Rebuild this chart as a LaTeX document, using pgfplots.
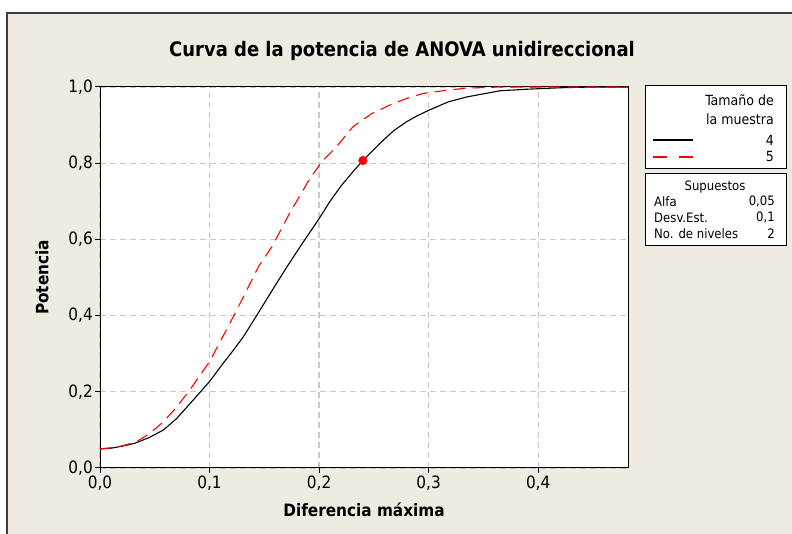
\documentclass[border=0pt]{standalone}
\usepackage{fontspec}
\setmainfont{DejaVu Sans Condensed}
\usepackage{pgfplots}
\pgfplotsset{compat=1.18}
\definecolor{beige}{RGB}{238,235,226}
\definecolor{gridc}{RGB}{200,200,200}
\definecolor{framec}{RGB}{60,60,60}
\begin{document}
\begin{tikzpicture}[x=1pt,y=1pt]
\useasboundingbox (0,0) rectangle (792,534);
\clip (0,0) rectangle (792,534);
\fill[white] (0,0) rectangle (792,534);
\fill[beige] (7,521) rectangle (805,-10);
\draw[framec,line width=1.5pt] (7,-10) -- (7,521) -- (805,521);
\node[font=\fontsize{20}{24}\selectfont\bfseries] at (402,483) {Curva de la potencia de ANOVA unidireccional};
\begin{axis}[
  at={(100pt,66pt)}, anchor=south west,
  width=528pt, height=381pt, scale only axis,
  xmin=0, xmax=0.482, ymin=0, ymax=1,
  axis background/.style={fill=white},
  axis line style={black, line width=1pt},
  xtick={0,0.1,0.2,0.3,0.4},
  ytick={0,0.2,0.4,0.6,0.8,1.0},
  tick align=outside, tick pos=left,
  major tick length=5pt,
  tick style={black, line width=1pt},
  grid=major,
  grid style={gridc, line width=1.2pt, dash pattern=on 6pt off 4pt},
  /pgf/number format/assume math mode=true,
  /pgf/number format/use comma,
  /pgf/number format/fixed,
  /pgf/number format/fixed zerofill,
  /pgf/number format/precision=1,
  ticklabel style={font=\fontsize{17}{20}\selectfont},
  yticklabel style={inner sep=2pt},
  xticklabel style={inner sep=3pt},
  xlabel={Diferencia máxima},
  ylabel={Potencia},
  xlabel style={font=\fontsize{17}{20}\selectfont\bfseries, at={(axis description cs:0.5,-0.110)}, anchor=center},
  ylabel style={font=\fontsize{17}{20}\selectfont\bfseries, at={(axis description cs:-0.110,0.5)}, anchor=center},
  clip=false,
]
\addplot[black, line width=1.1pt] coordinates {
(0,0.05) (0.01,0.052) (0.02,0.057) (0.032,0.065) (0.045,0.08) (0.058,0.10)
(0.07,0.13) (0.085,0.178) (0.1,0.227) (0.1125,0.275) (0.122,0.31) (0.131,0.345)
(0.143,0.40) (0.158,0.47) (0.17,0.525) (0.1825,0.58) (0.199,0.65) (0.21,0.70)
(0.22,0.74) (0.231,0.778) (0.24,0.807) (0.2555,0.852) (0.268,0.885) (0.28,0.909)
(0.29,0.925) (0.301,0.94) (0.318,0.961) (0.335,0.974) (0.35,0.982) (0.365,0.99)
(0.389,0.994) (0.42,0.998) (0.45,1.0) (0.482,1.0)
};
\addplot[red, line width=1.1pt, dash pattern=on 12pt off 7pt] coordinates {
(0,0.05) (0.01,0.053) (0.02,0.058) (0.0335,0.069) (0.045,0.09) (0.058,0.1215)
(0.07,0.16) (0.082,0.205) (0.1,0.279) (0.1217,0.397) (0.134,0.467) (0.145,0.53)
(0.157,0.581) (0.173,0.668) (0.1916,0.76) (0.2037,0.808) (0.215,0.84) (0.231,0.896)
(0.248,0.93) (0.265,0.953) (0.28,0.97) (0.295,0.983) (0.318,0.992) (0.335,0.997)
(0.365,1.0) (0.482,1.0)
};
\addplot[only marks, mark=*, red, mark size=4.3pt] coordinates {(0.24,0.807)};
\end{axis}
% legend box 1
\draw[black, line width=1pt, fill=white] (645,448) rectangle (786.7,365.7);
\begin{scope}[every node/.style={font=\fontsize{14}{16}\selectfont, inner sep=0pt}]
\node[anchor=east] at (774,434) {Tamaño de};
\node[anchor=east] at (774,415) {la muestra};
\node[anchor=east] at (774,394) {4};
\node[anchor=east] at (774,377) {5};
\end{scope}
\draw[black, line width=1.1pt] (652.7,394) -- (692.7,394);
\draw[red, line width=1.1pt, dash pattern=on 14pt off 12pt] (652.7,377) -- (692.7,377);
% legend box 2
\draw[black, line width=1pt, fill=white] (645,360) rectangle (786.7,288.3);
\begin{scope}[every node/.style={font=\fontsize{13}{15}\selectfont, inner sep=0pt}]
\node at (715,347.3) {Supuestos};
\node[anchor=west] at (654,332.3) {Alfa};
\node[anchor=east] at (775,332.3) {0,05};
\node[anchor=west] at (654,316.5) {Desv.Est.};
\node[anchor=east] at (775,316.5) {0,1};
\node[anchor=west] at (654,300.5) {No. de niveles};
\node[anchor=east] at (775,300.5) {2};
\end{scope}
\end{tikzpicture}
\end{document}
